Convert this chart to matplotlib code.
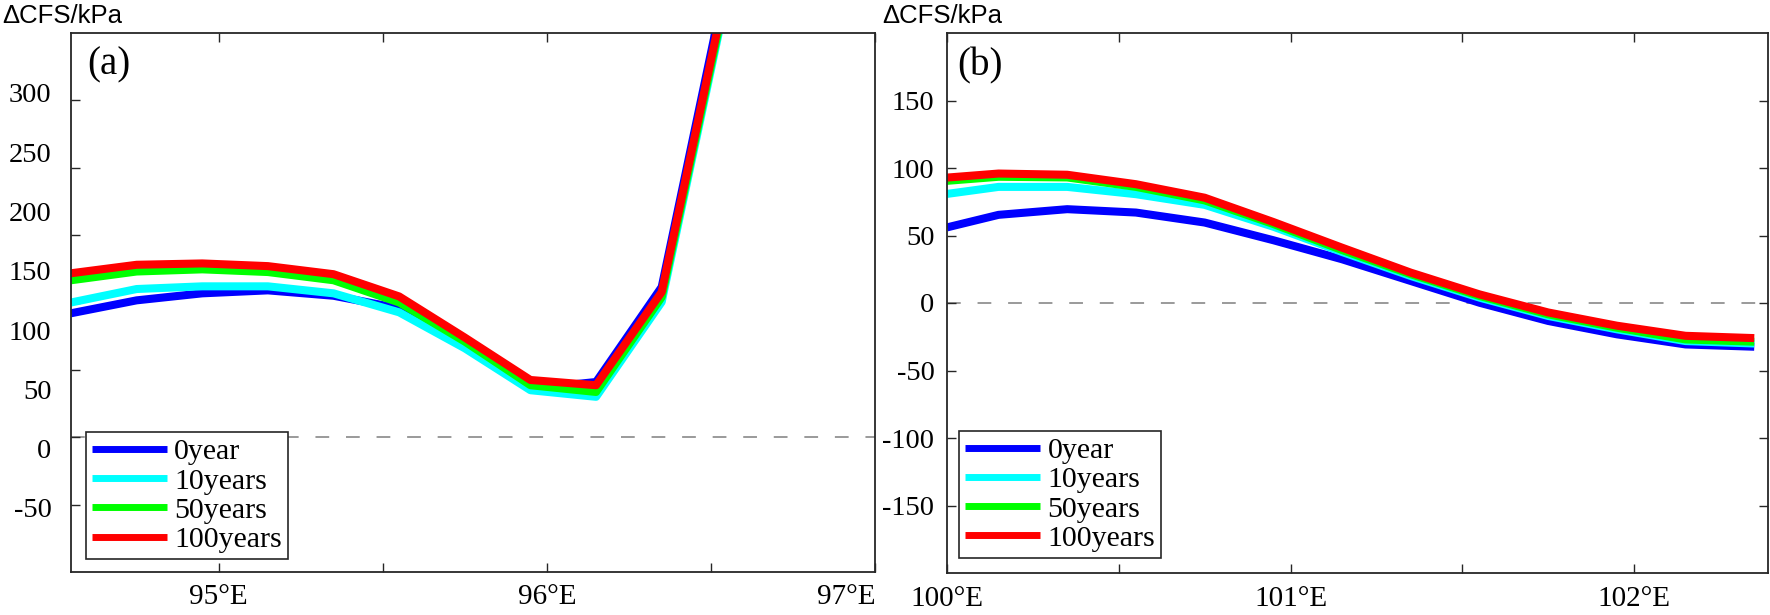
import numpy as np
import matplotlib
matplotlib.use('Agg')
import matplotlib.pyplot as plt

plt.rcParams['font.family'] = ['Liberation Serif', 'DejaVu Serif']
plt.rcParams['axes.unicode_minus'] = False

# data (kPa)
lon_a = [94.55, 94.75, 94.95, 95.15, 95.35, 95.55, 95.75, 95.95, 96.15, 96.35, 96.55]
cfs_a_0 = [92, 101.6, 106.8, 109, 105, 95.7, 69, 36, 41, 111.5, 343]
cfs_a_10 = [100, 110, 112, 112, 106.8, 92.7, 66, 34.9, 30, 100.4, 330]
cfs_a_50 = [116.5, 123, 124.6, 122.6, 116.5, 100, 71, 38.6, 33.6, 104, 333]
cfs_a_100 = [121.7, 128, 129, 127, 121, 104.5, 74, 42.5, 38.6, 107.8, 337]

lon_b = [100.0, 100.15, 100.35, 100.55, 100.75, 100.95, 101.15, 101.35, 101.55, 101.75, 101.95, 102.15, 102.35]
cfs_b_0 = [56, 65.3, 69.5, 67, 59.6, 46.5, 32.4, 16.3, 0.2, -13.3, -23.2, -30.7, -32.4]
cfs_b_10 = [80.8, 86, 86, 80.6, 72.7, 56.5, 37.8, 20, 4, -9.6, -19.5, -28.2, -30]
cfs_b_50 = [90.5, 93.5, 93, 86, 76, 58.5, 39.2, 21.3, 5.2, -8.4, -18.3, -27, -28.7]
cfs_b_100 = [92.9, 95.9, 95, 88, 78, 60, 41, 22.5, 6.4, -7, -16.8, -24.3, -26]

labels = ['0year', '10years', '50years', '100years']
colors = ['#0000ff', '#00ffff', '#00ff00', '#ff0000']

# printed tick labels of panel (a) (they do not sit on the tick marks)
ylabels_a = [-50, 0, 50, 100, 150, 200, 250, 300]

fig = plt.figure(figsize=(17.7, 6.15), dpi=100)
ax1 = fig.add_axes([71/1770, 43/615, 804/1770, 539/615])
ax2 = fig.add_axes([947/1770, 42/615, 821/1770, 540/615])

frame_c = '#262626'


def style_axes(ax):
    for s in ax.spines.values():
        s.set_color(frame_c)
        s.set_linewidth(1.3)
    ax.tick_params(which='both', direction='in', length=6.5, width=1.0,
                   color=frame_c, top=True, right=True, labelsize=21, pad=9)
    ax.tick_params(axis='y', labelsize=20.5, pad=9)


def draw(ax, lon, series, legend_pos):
    ax.axhline(0, color='#7f7f7f', lw=1.1, dashes=(9, 11), zorder=1)
    handles = []
    for ys, c, lab in zip(series, colors, labels):
        h, = ax.plot(lon, ys, color=c, lw=5.8, label=lab, zorder=2,
                     solid_joinstyle='round', solid_capstyle='butt')
        handles.append(h)
    leg = ax.legend(handles=handles, loc='lower left', bbox_to_anchor=legend_pos,
                    fontsize=21.5, frameon=True, fancybox=False, framealpha=1,
                    edgecolor=frame_c, handlelength=2.5, handletextpad=0.25,
                    labelspacing=0.08, borderpad=0.2, borderaxespad=0)
    leg.get_frame().set_linewidth(1.2)
    for lh in leg.get_lines():
        lh.set_linewidth(5)
    leg.set_zorder(5)


# panel (a)
draw(ax1, lon_a, [cfs_a_0, cfs_a_10, cfs_a_50, cfs_a_100], (0.019, 0.024))
ax1.set_xlim(94.55, 97.0)
ax1.set_ylim(-100, 300)
ax1.set_xticks([95, 96, 97])
ax1.set_xticklabels(['95°E', '96°E', '97°E'])
ax1.set_xticks([95.5, 96.5], minor=True)
ax1.set_yticks(np.arange(-50, 251, 50))
ax1.set_yticklabels([])
style_axes(ax1)
ax1.get_xticklabels()[-1].set_ha('right')
ax1.text(0.02, 0.94, '(a)', transform=ax1.transAxes, fontsize=28,
         ha='left', va='center')

# separate scale carrying the printed labels of panel (a)
lab = ax1.twinx()
lab.set_ylim(-104, 350.5)
lab.yaxis.set_ticks_position('left')
lab.set_yticks(ylabels_a)
lab.set_yticklabels([str(v) for v in ylabels_a])
lab.tick_params(axis='y', length=0, labelsize=20.5, pad=14)
for s in lab.spines.values():
    s.set_visible(False)

# panel (b)
draw(ax2, lon_b, [cfs_b_0, cfs_b_10, cfs_b_50, cfs_b_100], (0.015, 0.028))
ax2.set_xlim(100.0, 102.39)
ax2.set_ylim(-200, 200)
ax2.set_xticks([100, 101, 102])
ax2.set_xticklabels(['100°E', '101°E', '102°E'])
ax2.set_xticks([100.5, 101.5], minor=True)
ax2.set_yticks(np.arange(-150, 151, 50))
style_axes(ax2)
ax2.text(0.012, 0.94, '(b)', transform=ax2.transAxes, fontsize=28,
         ha='left', va='center')

for xpos in [2/1770, 882/1770]:
    fig.text(xpos, 1 - 16/615, 'ΔCFS/kPa', fontsize=18.5, ha='left', va='center',
             family=['Liberation Sans', 'DejaVu Sans'])

fig.savefig('out.png', dpi=100)
